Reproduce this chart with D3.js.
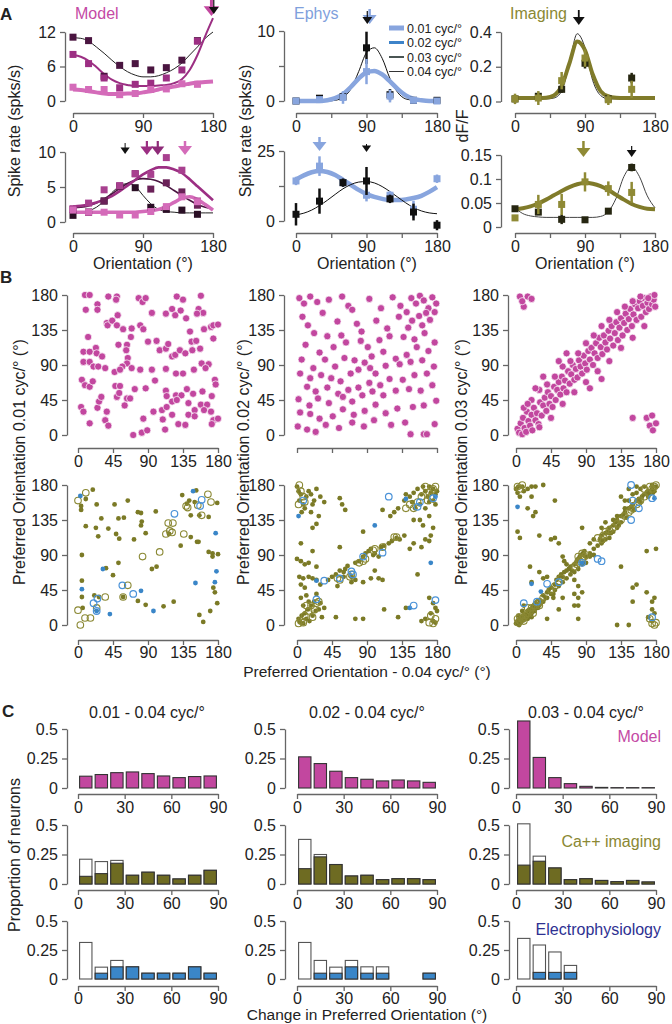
<!DOCTYPE html>
<html><head><meta charset="utf-8">
<script src="https://cdn.jsdelivr.net/npm/d3@7"></script>
<style>body{margin:0;background:#fff}svg text{font-family:"Liberation Sans",Arial,Helvetica,sans-serif}</style>
</head><body><svg id="c" width="672" height="1024"></svg>
<script>
// ---------------- DATA ----------------
const curveOri = [0,10,20,30,40,50,60,70,80,90,100,110,120,130,140,150,160,170,180];
const modelOri = [0,20,40,60,80,100,120,140,160];
const ephysOri = [0,30,60,90,120,150,180];
const imagingOri = [0,30,60,90,120,150];

// Model neuron 1
const model1Fit01 = [2.0,1.9,1.7,1.5,1.3,1.2,1.2,1.3,1.3,1.5,1.7,2.0,2.3,2.5,2.8,3.0,3.2,3.3,3.4];
const model1Fit02 = [8.0,7.7,7.0,5.9,4.7,3.7,3.1,2.8,2.6,2.6,2.6,2.7,2.8,3.1,3.8,5.4,8.0,11.3,14.4];
const model1Fit04 = [11.0,10.9,10.4,9.4,8.3,7.1,6.0,5.1,4.5,4.2,4.2,4.4,4.9,5.6,6.6,8.0,9.4,10.9,12.0];
const model1Pts01 = [2.4,2.0,2.0,1.1,1.3,2.0,2.1,3.0,2.9];
const model1Pts02 = [8.1,6.5,4.0,2.3,2.9,3.1,4.0,5.4,10.4];
const model1Pts04 = [11.1,10.5,4.3,6.2,6.5,5.4,5.8,7.1,10.5];
// Model neuron 2
const model2Fit01 = [1.4,1.4,1.4,1.4,1.4,1.4,1.4,1.4,1.4,1.5,1.6,1.8,2.2,2.8,3.4,3.6,3.2,2.5,1.7];
const model2Fit02 = [2.2,2.3,2.5,2.8,3.2,3.7,4.4,5.2,6.0,6.8,7.4,7.8,7.8,7.5,7.0,6.1,5.1,4.1,3.1];
const model2Fit03 = [2.0,2.1,2.3,2.7,3.3,4.0,4.8,5.5,6.0,6.2,6.1,5.8,5.2,4.5,3.8,3.1,2.5,2.1,1.9];
const model2Fit04 = [1.3,1.4,1.6,2.1,3.0,4.2,5.1,5.5,5.1,3.8,2.6,1.8,1.5,1.4,1.3,1.3,1.3,1.3,1.3];
const model2Pts01 = [1.7,1.4,1.4,1.0,1.0,1.5,2.2,3.6,2.9];
const model2Pts02 = [1.9,2.7,4.6,5.2,6.9,6.8,9.2,7.4,3.0];
const model2Pts03 = [1.8,1.4,3.0,5.1,6.9,4.7,5.6,4.3,2.4];
const model2Pts04 = [0.95,1.4,3.0,5.1,4.9,2.1,1.8,1.7,1.1];

// Ephys neuron 1
const ephys1Fit01 = [0,0,0,0,0.1,0.4,1.0,2.0,3.2,4.1,4.3,3.8,2.8,1.7,0.8,0.3,0.1,0,0];
const ephys1Fit04 = [0,0,0,0,0,0.1,0.5,1.7,4.2,6.9,7.6,6.1,3.2,1.2,0.3,0.1,0,0,0];
const ephys1Pts01 = [0,0.2,0.5,4.2,0.7,0.1,0];
const ephys1Err01 = [0.2,0.3,0.9,1.8,0.9,0.1,0.1];
const ephys1Pts04 = [0,0.4,0.6,7.6,0.9,0.1,0.1];
const ephys1Err04 = [0.1,0.3,0.3,2.3,0.8,0.1,0.1];
// Ephys neuron 2
const ephys2Fit01 = [14.8,16.3,17.4,17.9,17.5,16.4,14.7,12.9,11.1,9.6,8.6,7.9,7.5,7.5,7.7,8.2,9.0,10.4,12.1];
const ephys2Fit04 = [2.2,2.8,3.9,5.5,7.4,9.5,11.5,13.0,13.9,14.1,13.6,12.3,10.5,8.5,6.5,4.8,3.6,2.9,2.6];
const ephys2Pts01 = [14.3,19.6,13.7,9.2,9.2,4.2,15.1];
const ephys2Err01 = [1.5,3.5,1.5,2.2,1.5,3.0,1.5];
const ephys2Pts04 = [2.4,7.1,13.7,14.3,7.9,3.2,-1.5];
const ephys2Err04 = [4.0,4.5,1.5,5.0,1.5,3.0,1.8];

// Imaging neuron 1
const img1Fit01 = [0.02,0.02,0.02,0.02,0.022,0.035,0.09,0.22,0.345,0.295,0.155,0.06,0.03,0.022,0.02,0.02,0.02,0.02,0.02];
const img1Fit04 = [0.015,0.015,0.015,0.015,0.015,0.02,0.06,0.22,0.39,0.31,0.12,0.035,0.015,0.015,0.015,0.015,0.015,0.015,0.015];
const img1Pts01 = [0.015,0.02,0.12,0.25,0.01,0.07];
const img1Err01 = [0.03,0.04,0.05,0.05,0.03,0.05];
const img1Pts04 = [0.015,0.03,0.07,0.22,0.015,0.135];
const img1Err04 = [0.02,0.02,0.02,0.03,0.02,0.03];
// Imaging neuron 2
const img2Fit01 = [0.037,0.039,0.043,0.049,0.057,0.066,0.075,0.083,0.089,0.092,0.09,0.085,0.077,0.067,0.057,0.048,0.042,0.038,0.037];
const img2Fit04 = [0.04,0.028,0.023,0.021,0.02,0.02,0.02,0.02,0.02,0.02,0.02,0.022,0.032,0.06,0.105,0.125,0.105,0.065,0.04];
const img2Pts01 = [0.019,0.047,0.047,0.094,0.08,0.072];
const img2Err01 = [0.005,0.02,0.022,0.02,0.015,0.022];
const img2Pts04 = [0.038,0.031,0.016,0.015,0.033,0.124];
const img2Err04 = [0.005,0.004,0.01,0.003,0.005,0.008];

// Panel B: preferred orientation pairs [pref 0.04, pref other]
const modelPairs01 = [[9,180],[15,180],[10,161],[25,168],[25,161],[39,178],[50,178],[49,174],[78,176],[83,171],[87,176],[127,178],[135,174],[158,179],[155,162],[161,157],[13,126],[37,144],[38,141],[44,147],[51,154],[50,141],[58,136],[69,137],[80,141],[84,136],[95,157],[90,120],[101,121],[113,156],[121,162],[125,154],[132,160],[139,150],[144,133],[146,120],[153,156],[162,136],[171,139],[174,141],[180,142],[174,124],[7,107],[15,107],[23,112],[24,105],[31,101],[7,94],[15,94],[20,88],[26,88],[35,86],[52,116],[63,116],[62,109],[68,126],[64,99],[63,92],[57,88],[47,81],[54,84],[69,86],[80,84],[95,84],[105,109],[113,111],[116,117],[121,101],[125,103],[131,109],[138,105],[147,109],[152,121],[157,111],[113,85],[126,79],[135,79],[149,84],[159,92],[168,91],[164,86],[176,71],[177,65],[5,71],[9,64],[15,62],[19,69],[48,63],[54,63],[73,59],[63,47],[87,60],[99,70],[113,57],[114,50],[121,43],[126,51],[133,51],[140,59],[148,53],[160,56],[172,50],[4,36],[7,30],[25,35],[27,43],[30,49],[37,30],[50,49],[53,54],[60,38],[67,47],[97,30],[108,32],[114,36],[127,45],[142,41],[142,26],[150,32],[158,39],[166,39],[162,32],[171,30],[174,19],[15,15],[35,19],[39,12],[71,0],[82,3],[89,6],[84,21],[109,20],[121,26],[129,14],[138,13],[150,24],[172,14],[180,21],[112,7]];
const modelPairs02 = [[3,176],[9,169],[17,178],[26,171],[41,174],[58,178],[66,166],[7,152],[14,141],[33,157],[52,146],[71,161],[93,175],[108,163],[123,177],[133,166],[141,158],[147,176],[153,169],[158,179],[163,173],[169,163],[174,177],[179,169],[148,147],[157,153],[166,157],[171,148],[177,158],[143,138],[161,141],[131,152],[116,137],[102,147],[83,133],[77,143],[57,128],[39,127],[22,131],[11,116],[29,106],[47,113],[63,119],[82,121],[91,113],[106,122],[119,127],[137,126],[151,123],[164,131],[177,119],[169,108],[154,113],[141,103],[127,98],[111,107],[96,101],[87,93],[74,96],[61,99],[49,88],[36,97],[21,86],[6,97],[4,79],[17,73],[31,77],[44,73],[56,69],[69,79],[79,84],[94,86],[101,79],[114,89],[132,91],[146,94],[161,96],[176,88],[167,79],[151,77],[136,71],[119,72],[107,64],[93,67],[79,61],[66,58],[53,53],[39,61],[24,56],[13,62],[2,46],[16,38],[27,47],[41,41],[59,49],[71,43],[84,51],[97,56],[111,51],[127,57],[144,59],[159,57],[174,64],[179,44],[163,38],[149,36],[129,34],[114,28],[101,39],[87,31],[73,26],[59,33],[46,24],[29,21],[17,27],[4,29],[1,11],[13,7],[24,4],[37,13],[54,9],[71,16],[86,11],[99,19],[121,13],[139,16],[146,1],[163,1],[167,1],[177,14]];
const modelPairs03 = [[2,8],[4,3],[6,15],[8,1],[9,22],[11,9],[13,4],[14,30],[16,18],[18,12],[20,26],[21,6],[23,35],[25,19],[27,28],[29,14],[31,42],[33,25],[35,38],[37,48],[39,31],[41,55],[43,40],[45,50],[47,36],[49,62],[51,45],[53,58],[55,68],[57,52],[59,75],[61,60],[63,70],[65,55],[67,82],[69,66],[71,78],[73,90],[75,71],[77,85],[79,74],[81,96],[83,88],[85,79],[87,102],[89,92],[91,84],[93,108],[95,97],[97,112],[99,90],[101,105],[103,118],[105,99],[107,125],[109,113],[111,104],[113,128],[115,119],[117,110],[119,134],[121,124],[123,140],[125,115],[127,131],[129,145],[131,122],[133,138],[135,150],[137,128],[139,144],[141,156],[143,135],[145,149],[147,162],[149,140],[151,155],[153,168],[155,148],[157,163],[159,172],[161,152],[163,166],[165,176],[167,158],[169,170],[171,162],[173,178],[175,168],[177,174],[179,165],[178,180],[170,176],[160,178],[150,172],[140,165],[130,158],[120,148],[110,140],[100,128],[90,118],[80,105],[70,95],[60,88],[50,75],[40,65],[30,58],[20,45],[10,35],[60,40],[75,55],[90,68],[105,82],[120,95],[135,112],[150,125],[165,140],[45,22],[30,10],[15,40],[25,60],[35,75],[5,178],[10,165],[8,172],[15,178],[20,175],[168,22],[172,12],[176,6],[180,15],[150,22],[175,25],[95,60],[110,72],[65,105],[55,95]];

const imgSig01 = [[19,174],[4,153],[4,148],[10,162],[24,155],[30,137],[23,125],[26,114],[10,127],[39,124],[47,155],[64,160],[52,137],[59,138],[49,117],[53,111],[72,110],[77,145],[81,144],[82,133],[81,128],[87,118],[100,146],[134,167],[143,160],[152,173],[145,141],[145,113],[153,107],[132,102],[117,117],[5,90],[5,57],[5,36],[6,22],[21,38],[27,36],[36,73],[45,64],[52,80],[58,36],[77,31],[87,26],[95,72],[101,75],[110,24],[123,30],[156,13],[161,4],[170,18],[174,48],[176,42],[173,88],[168,94],[173,92],[180,91],[179,28],[179,157],[168,139],[156,141],[150,158],[140,156],[155,107]];
const imgAll01 = [[0,160],[10,170],[139,153],[141,151],[154,154],[159,141],[167,168],[171,158],[113,117],[116,131],[122,131],[118,121],[121,119],[136,117],[83,88],[105,94],[64,51],[58,36],[35,36],[24,22],[0,19],[9,9],[16,9],[3,0]];
const ephysSig01 = [[3,166],[148,172],[177,118],[178,69],[176,55],[151,54],[81,44],[32,72],[5,46],[41,14],[97,18],[24,18]];
const ephysAll01 = [[124,143],[159,161],[157,153],[57,51],[71,40],[20,28],[25,34],[24,18]];

const imgSig02 = [[0,178],[2,172],[5,168],[3,160],[8,155],[10,150],[6,145],[12,165],[15,172],[18,168],[22,160],[20,155],[25,175],[30,165],[18,145],[25,130],[20,125],[28,140],[35,158],[55,163],[58,155],[62,148],[145,165],[150,170],[155,175],[160,168],[162,178],[165,172],[168,165],[170,178],[172,170],[175,175],[178,168],[180,172],[148,158],[152,150],[158,155],[165,150],[170,158],[175,160],[178,155],[140,168],[138,160],[130,150],[125,145],[150,135],[158,135],[162,128],[170,140],[175,125],[172,115],[110,148],[120,140],[2,8],[4,4],[6,12],[8,2],[10,15],[12,8],[14,20],[16,5],[18,25],[20,12],[22,30],[24,18],[8,25],[5,35],[12,38],[15,30],[28,20],[30,28],[32,10],[35,22],[25,40],[10,48],[5,52],[3,62],[8,60],[15,62],[20,60],[25,58],[30,52],[40,58],[45,62],[50,65],[55,70],[60,68],[62,72],[65,76],[70,62],[75,80],[80,82],[85,88],[88,92],[92,95],[95,98],[98,90],[100,92],[105,88],[108,100],[112,102],[118,105],[122,108],[128,112],[132,110],[138,115],[145,98],[150,105],[160,100],[165,110],[170,108],[0,85],[5,82],[10,78],[15,80],[25,75],[20,95],[5,105],[55,100],[85,120],[100,70],[105,60],[110,58],[95,60],[85,55],[75,58],[70,55],[60,62],[52,50],[50,10],[75,8],[85,8],[130,10],[112,20],[140,22],[160,5],[165,8],[170,35],[175,28],[178,22],[180,18],[172,15],[175,5],[178,3],[155,65]];
const imgAll02 = [[3,180],[5,172],[2,155],[8,165],[10,158],[165,178],[170,170],[175,175],[160,165],[155,158],[150,150],[168,160],[172,165],[178,178],[140,150],[145,155],[125,113],[128,113],[100,98],[98,96],[110,100],[85,82],[88,85],[80,80],[70,65],[68,62],[55,58],[52,60],[25,28],[22,20],[18,25],[28,30],[15,18],[10,12],[5,5],[2,2],[8,3],[20,10],[12,25],[170,3],[175,2],[178,8],[172,12]];
const ephysSig02 = [[2,140],[140,162],[178,165],[100,128],[25,57],[145,22],[172,80]];
const ephysAll02 = [[8,160],[118,165],[155,152],[158,158],[175,163],[85,88],[110,93],[70,69],[72,65],[55,60],[35,57],[25,33],[150,25],[178,32]];

const imgSig03 = [[0,2],[2,5],[4,0],[5,8],[6,3],[8,10],[10,6],[12,14],[14,10],[15,18],[16,12],[18,20],[20,15],[22,24],[24,18],[25,28],[3,12],[8,18],[10,25],[15,8],[20,10],[28,22],[30,32],[32,28],[35,38],[38,35],[40,42],[42,45],[45,48],[48,40],[50,52],[52,58],[55,62],[58,65],[60,62],[62,68],[65,70],[68,72],[70,75],[72,70],[75,78],[78,82],[80,85],[82,88],[84,90],[86,92],[88,95],[90,88],[95,92],[100,98],[105,102],[108,110],[110,115],[112,108],[115,118],[118,120],[120,125],[122,118],[125,128],[128,132],[130,135],[132,128],[135,140],[138,142],[140,145],[142,138],[145,150],[148,152],[150,155],[152,148],[155,160],[158,162],[160,158],[162,165],[165,168],[168,170],[170,172],[172,168],[175,175],[178,172],[180,178],[176,170],[170,165],[160,175],[155,170],[150,168],[145,160],[140,150],[135,132],[130,125],[125,120],[120,112],[115,110],[110,105],[100,90],[95,88],[90,80],[85,78],[80,72],[75,68],[70,65],[65,60],[60,55],[55,50],[50,45],[45,40],[40,35],[35,30],[30,25],[25,22],[20,18],[0,175],[2,170],[5,165],[3,178],[8,178],[10,172],[15,175],[20,178],[25,178],[35,180],[20,165],[15,150],[22,140],[25,145],[50,160],[2,120],[5,112],[18,75],[30,68],[35,60],[40,62],[20,55],[30,115],[45,110],[50,112],[55,105],[60,88],[65,78],[62,82],[85,125],[75,58],[80,50],[85,42],[80,35],[75,40],[75,25],[80,25],[80,8],[60,35],[55,20],[48,35],[40,8],[130,0],[145,0],[135,75],[150,48],[155,52],[150,30],[168,42],[175,30],[178,35],[175,20],[178,15],[170,10],[175,5],[180,98],[168,95],[110,125],[115,132],[120,118],[95,105],[100,110],[125,135],[130,140],[140,160],[135,165],[145,175],[155,178],[165,178],[175,180]];
const imgAll03 = [[3,3],[5,5],[8,8],[10,10],[12,12],[15,15],[18,18],[20,22],[25,25],[28,28],[30,30],[35,35],[10,5],[5,10],[2,8],[15,22],[22,15],[30,25],[45,45],[50,50],[55,55],[58,60],[78,78],[80,80],[82,82],[85,85],[88,88],[90,90],[85,92],[80,88],[75,75],[105,112],[110,110],[112,115],[115,120],[120,122],[125,125],[130,130],[135,135],[140,140],[145,145],[148,148],[150,150],[155,155],[158,158],[160,160],[165,165],[170,170],[175,175],[178,178],[180,180],[165,175],[172,178],[2,178],[5,175],[8,180],[175,2],[178,0],[180,3],[172,8]];
const ephysSig03 = [[2,152],[20,53],[32,43],[85,80],[178,163]];
const ephysAll03 = [[10,28],[27,30],[40,53],[55,55],[85,80],[105,85],[110,82],[148,180],[148,135],[150,160],[158,150],[175,163],[175,10]];

// Panel C histograms (bins of 10 deg)
const binStarts = [0,10,20,30,40,50,60,70,80];
const c1Model = [0.1,0.114,0.13,0.136,0.122,0.102,0.088,0.097,0.102];
const c1ImgAll = [0.21,0.19,0.2,0.074,0.1,0.074,0.043,0.074,0.116];
const c1ImgSig = [0.065,0.088,0.176,0.074,0.1,0.074,0.043,0.074,0.116];
const c1EphysAll = [0.315,0.102,0.16,0.105,0.05,0.05,0.05,0.105,0.05];
const c1EphysSig = [0,0.05,0.105,0.105,0.05,0.05,0.05,0.105,0.05];
const c2Model = [0.264,0.207,0.142,0.088,0.074,0.06,0.068,0.06,0.048];
const c2ImgAll = [0.378,0.25,0.165,0.068,0.074,0.037,0.045,0.045,0.037];
const c2ImgSig = [0.13,0.23,0.165,0.068,0.074,0.037,0.045,0.045,0.037];
const c2EphysAll = [0.315,0.16,0.102,0.16,0.105,0.105,0,0,0.05];
const c2EphysSig = [0,0.05,0.05,0.105,0.05,0.05,0,0,0.05];
const c3Model = [0.568,0.259,0.088,0.037,0.014,0.005,0.003,0.003,0.003];
const c3ImgAll = [0.51,0.236,0.136,0.037,0.045,0.03,0.02,0.03,0.017];
const c3ImgSig = [0.16,0.193,0.136,0.037,0.045,0.03,0.02,0.03,0.017];
const c3EphysAll = [0.35,0.293,0.233,0.117,0,0,0,0,0];
const c3EphysSig = [0,0.057,0.057,0.057,0,0,0,0,0];

const legendLabels = ["0.01 cyc/°","0.02 cyc/°","0.03 cyc/°","0.04 cyc/°"];
const histTitles = ["0.01 - 0.04 cyc/°","0.02 - 0.04 cyc/°","0.03 - 0.04 cyc/°"];

// ---------------- DRAWING ----------------
const svg = d3.select("#c");
const MAG = "#c2479f", MAG_L = "#d46bb9", MAG_P = "#9c2f83", MAG_D = "#4a1540";
const OLV = "#7b7a26", OLV_T = "#8a8833";
const BLU = "#3a86c8", BLU_L = "#88a5de";
const AX = "#666";

function styleAxis(g){
  g.select(".domain").attr("stroke",AX).attr("stroke-width",1.3);
  g.selectAll(".tick line").attr("stroke",AX).attr("stroke-width",1.3);
  g.selectAll(".tick text").attr("font-size",16).attr("fill","#222");
}
function makeAxes(p){
  const x = d3.scaleLinear().domain(p.xDomain).range(p.xr);
  const y = d3.scaleLinear().domain(p.yDomain).range(p.yr);
  svg.append("g").attr("transform",`translate(${p.yAxisX},0)`)
    .call(d3.axisLeft(y).tickValues(p.yTicks).tickFormat(p.yFmt).tickSize(5).tickSizeOuter(0).tickPadding(4)).call(styleAxis);
  svg.append("g").attr("transform",`translate(0,${p.xAxisY})`)
    .call(d3.axisBottom(x).tickValues(p.xTicks).tickFormat(p.xFmt).tickSize(5).tickSizeOuter(0).tickPadding(p.xPad==null?3:p.xPad)).call(styleAxis);
  return {x,y};
}
function arrow(xp, y0, y1, color, w){
  const hw = w*1.6+3, hh = w*1.6+5;
  svg.append("line").attr("x1",xp).attr("x2",xp).attr("y1",y0).attr("y2",y1-hh+1).attr("stroke",color).attr("stroke-width",w);
  svg.append("path").attr("d",`M${xp-hw},${y1-hh}L${xp+hw},${y1-hh}L${xp},${y1}Z`).attr("fill",color);
}
function tuning(p){
  const {x,y} = makeAxes(p);
  const line = d3.line().x(d=>x(d[0])).y(d=>y(d[1])).curve(d3.curveMonotoneX);
  p.series.forEach(s=>{
    if(s.fit) svg.append("path").attr("d",line(curveOri.map((o,i)=>[o,s.fit[i]]))).attr("fill","none").attr("stroke",s.color).attr("stroke-width",s.w);
  });
  p.series.forEach(s=>{
    if(!s.pts) return;
    s.pts.forEach((v,i)=>{
      const o = p.ori[i];
      if(s.err) svg.append("line").attr("x1",x(o)).attr("x2",x(o)).attr("y1",y(v-s.err[i])).attr("y2",y(v+s.err[i])).attr("stroke",s.pcolor).attr("stroke-width",2.5);
      svg.append("rect").attr("x",x(o)-3.5).attr("y",y(v)-3.5).attr("width",7).attr("height",7).attr("fill",s.pcolor);
    });
  });
  (p.arrows||[]).forEach(a=>arrow(x(a.o),a.y0,a.y1,a.color,a.w));
}
const fmtSel = keep => (d=> keep.includes(d) ? String(d) : "");

// ----- Panel A -----
tuning({xr:[73,213],yr:[101,32],yAxisX:65,xAxisY:113,xDomain:[0,180],yDomain:[0,12],yTicks:[0,6,12],yFmt:d=>d,xTicks:[0,90,180],xFmt:d=>d,ori:modelOri,
  series:[{fit:model1Fit04,color:"#222",w:1,pts:model1Pts04,pcolor:MAG_D},{fit:model1Fit02,color:MAG_P,w:2,pts:model1Pts02,pcolor:MAG_P},{fit:model1Fit01,color:MAG_L,w:4,pts:model1Pts01,pcolor:MAG_L}],
  arrows:[{o:178,y0:0,y1:16,color:MAG,w:3},{o:181,y0:0,y1:14,color:"#111",w:1.2}]});
tuning({xr:[73,213],yr:[222,152],yAxisX:65,xAxisY:233,xDomain:[0,180],yDomain:[0,10],yTicks:[0,5,10],yFmt:d=>d,xTicks:[0,90,180],xFmt:d=>d,ori:modelOri,
  series:[{fit:model2Fit04,color:"#222",w:1,pts:model2Pts04,pcolor:"#2a0f25"},{fit:model2Fit03,color:MAG_D,w:1.6,pts:model2Pts03,pcolor:"#6a2158"},{fit:model2Fit02,color:MAG_P,w:2.6,pts:model2Pts02,pcolor:"#a8408f"},{fit:model2Fit01,color:MAG_L,w:3.5,pts:model2Pts01,pcolor:MAG_L}],
  arrows:[{o:67,y0:143,y1:154,color:"#111",w:1},{o:95,y0:141,y1:155,color:MAG_P,w:2.2},{o:109,y0:141,y1:155,color:"#8e2a78",w:2.2},{o:144,y0:141,y1:155,color:MAG_L,w:2.5}]});
tuning({xr:[296,437],yr:[101,31],yAxisX:284,xAxisY:113,xDomain:[0,180],yDomain:[0,10],yTicks:[0,5,10],yFmt:fmtSel([0,10]),xTicks:[0,45,90,135,180],xFmt:fmtSel([0,90,180]),ori:ephysOri,
  series:[{fit:ephys1Fit04,color:"#111",w:1,pts:ephys1Pts04,err:ephys1Err04,pcolor:"#111"},{fit:ephys1Fit01,color:BLU_L,w:4.5,pts:ephys1Pts01,err:ephys1Err01,pcolor:BLU_L}],
  arrows:[{o:94,y0:9,y1:24,color:BLU_L,w:2.5},{o:91,y0:11,y1:24,color:"#111",w:1.2}]});
tuning({xr:[296,437],yr:[221,151],yAxisX:284,xAxisY:233,xDomain:[0,180],yDomain:[0,25],yTicks:[0,12.5,25],yFmt:fmtSel([0,25]),xTicks:[0,45,90,135,180],xFmt:fmtSel([0,90,180]),ori:ephysOri,
  series:[{fit:ephys2Fit01,color:BLU_L,w:4.5,pts:ephys2Pts01,err:ephys2Err01,pcolor:BLU_L},{fit:ephys2Fit04,color:"#111",w:1,pts:ephys2Pts04,err:ephys2Err04,pcolor:"#111"}],
  arrows:[{o:30,y0:137,y1:151,color:BLU_L,w:2.5},{o:90,y0:144,y1:152,color:"#111",w:1}]});
tuning({xr:[515,655],yr:[101.5,32],yAxisX:501,xAxisY:113,xDomain:[0,180],yDomain:[0,0.4],yTicks:[0,0.2,0.4],yFmt:d3.format(".1f"),xTicks:[0,45,90,135,180],xFmt:fmtSel([0,90,180]),ori:imagingOri,
  series:[{fit:img1Fit04,color:"#333",w:1,pts:img1Pts04,err:img1Err04,pcolor:"#262611"},{fit:img1Fit01,color:"#807b2a",w:4,pts:img1Pts01,err:img1Err01,pcolor:"#8f8a35"}],
  arrows:[{o:82,y0:10,y1:25,color:"#111",w:1.8}]});
tuning({xr:[515,655],yr:[227,155],yAxisX:501,xAxisY:233,xDomain:[0,180],yDomain:[0,0.15],yTicks:[0,0.05,0.1,0.15],yFmt:d=>d===0?"0":String(d),xTicks:[0,45,90,135,180],xFmt:fmtSel([0,90,180]),ori:imagingOri,
  series:[{fit:img2Fit04,color:"#444",w:1,pts:img2Pts04,err:img2Err04,pcolor:"#262611"},{fit:img2Fit01,color:"#807b2a",w:4,pts:img2Pts01,err:img2Err01,pcolor:"#8f8a35"}],
  arrows:[{o:88,y0:141,y1:157,color:"#8f8a35",w:2.5},{o:150,y0:146,y1:157,color:"#111",w:1.2}]});

// Legend
const legColors = [BLU_L,"#3d83c9","#1c2a28","#333"], legW = [5,3,1.6,1];
legendLabels.forEach((t,i)=>{
  const yy = 28+i*14.5;
  svg.append("line").attr("x1",389).attr("x2",404).attr("y1",yy).attr("y2",yy).attr("stroke",legColors[i]).attr("stroke-width",legW[i]);
  svg.append("text").attr("x",407).attr("y",yy+4.5).attr("font-size",12.5).attr("fill","#222").text(t);
});

function txt(x,y,s,opt={}){
  const t = svg.append("text").attr("x",x).attr("y",y).attr("font-size",opt.size||16).attr("fill",opt.color||"#222").attr("text-anchor",opt.anchor||"start").text(s);
  if(opt.bold) t.attr("font-weight","bold");
  if(opt.rot) t.attr("transform",`rotate(-90,${x},${y})`);
  return t;
}
txt(0,20,"A",{bold:true,size:17});
txt(75,19,"Model",{color:"#c44aa5"});
txt(294,19,"Ephys",{color:"#7fa0dc"});
txt(510,19,"Imaging",{color:"#8a8833"});
txt(20,131,"Spike rate (spks/s)",{rot:true,anchor:"middle"});
txt(251,131,"Spike rate (spks/s)",{rot:true,anchor:"middle"});
txt(468,126,"dF/F",{rot:true,anchor:"middle"});
[143,367,585].forEach(cx=>txt(cx,269,"Orientation (°)",{anchor:"middle"}));

// ----- Panel B -----
const colsB = [{yAxisX:67,xr:[78,218]},{yAxisX:284,xr:[297,437]},{yAxisX:508,xr:[516,656]}];
const modelSets = [modelPairs01,modelPairs02,modelPairs03];
const dataSets = [[imgSig01,imgAll01,ephysSig01,ephysAll01],[imgSig02,imgAll02,ephysSig02,ephysAll02],[imgSig03,imgAll03,ephysSig03,ephysAll03]];
const bTicks = [0,45,90,135,180];
colsB.forEach((c,ci)=>{
  let a = makeAxes({xr:c.xr,yr:[435,295],yAxisX:c.yAxisX,xAxisY:448,xDomain:[0,180],yDomain:[0,180],yTicks:bTicks,yFmt:d=>d,xTicks:bTicks,xFmt:ci===1?(()=>""):(d=>d)});
  svg.append("g").selectAll("circle").data(modelSets[ci]).join("circle")
    .attr("cx",d=>a.x(d[0])).attr("cy",d=>a.y(d[1])).attr("r",3.6).attr("fill",MAG).attr("stroke","#fff").attr("stroke-width",0.7);
  a = makeAxes({xr:c.xr,yr:[625,485],yAxisX:c.yAxisX,xAxisY:640,xPad:2,xDomain:[0,180],yDomain:[0,180],yTicks:bTicks,yFmt:d=>d,xTicks:bTicks,xFmt:d=>d});
  const [is,ia,es,ea] = dataSets[ci];
  svg.append("g").selectAll("circle").data(is).join("circle").attr("cx",d=>a.x(d[0])).attr("cy",d=>a.y(d[1])).attr("r",2.4).attr("fill",OLV);
  svg.append("g").selectAll("circle").data(ia).join("circle").attr("cx",d=>a.x(d[0])).attr("cy",d=>a.y(d[1])).attr("r",3.3).attr("fill","none").attr("stroke",OLV_T).attr("stroke-width",1.1);
  svg.append("g").selectAll("circle").data(es).join("circle").attr("cx",d=>a.x(d[0])).attr("cy",d=>a.y(d[1])).attr("r",2.4).attr("fill",BLU);
  svg.append("g").selectAll("circle").data(ea).join("circle").attr("cx",d=>a.x(d[0])).attr("cy",d=>a.y(d[1])).attr("r",3.3).attr("fill","none").attr("stroke","#4a92d8").attr("stroke-width",1.2);
});
txt(0,283,"B",{bold:true,size:17});
txt(25,462,"Preferred Orientation 0.01 cyc/° (°)",{rot:true,anchor:"middle"});
txt(249,462,"Preferred Orientation 0.02 cyc/° (°)",{rot:true,anchor:"middle"});
txt(467,462,"Preferred Orientation 0.03 cyc/° (°)",{rot:true,anchor:"middle"});
txt(367,677,"Preferred Orientation - 0.04 cyc/° (°)",{anchor:"middle",size:15.5});

// ----- Panel C -----
const colsC = [{yAxisX:67,xr:[78,218]},{yAxisX:285,xr:[297,437]},{yAxisX:509,xr:[516,656]}];
const rowsC = [{yr:[788,729],ax:794},{yr:[884,825],ax:890},{yr:[979,921],ax:986}];
const histData = [
  [[null,c1Model,MAG],[c1ImgAll,c1ImgSig,"#6e6b22"],[c1EphysAll,c1EphysSig,BLU]],
  [[null,c2Model,MAG],[c2ImgAll,c2ImgSig,"#6e6b22"],[c2EphysAll,c2EphysSig,BLU]],
  [[null,c3Model,MAG],[c3ImgAll,c3ImgSig,"#6e6b22"],[c3EphysAll,c3EphysSig,BLU]]];
colsC.forEach((c,ci)=>{
  rowsC.forEach((r,ri)=>{
    const a = makeAxes({xr:c.xr,yr:r.yr,yAxisX:c.yAxisX,xAxisY:r.ax,xPad:ri===2?2:3,xDomain:[0,90],yDomain:[0,0.5],yTicks:[0,0.25,0.5],yFmt:d=>d===0?"0":String(d),xTicks:[0,30,60,90],xFmt:d=>d});
    const [all,sig,col] = histData[ci][ri];
    const g = svg.append("g");
    if(all) g.selectAll("rect.a").data(binStarts).join("rect").attr("class","a")
      .attr("x",d=>a.x(d)+1.6).attr("width",d=>a.x(d+10)-a.x(d)-3.2).attr("y",(d,i)=>a.y(all[i])).attr("height",(d,i)=>a.y(0)-a.y(all[i]))
      .attr("fill","#fff").attr("stroke","#555").attr("stroke-width",1.1);
    g.selectAll("rect.s").data(binStarts).join("rect").attr("class","s")
      .attr("x",d=>a.x(d)+1.6).attr("width",d=>a.x(d+10)-a.x(d)-3.2).attr("y",(d,i)=>a.y(sig[i])).attr("height",(d,i)=>a.y(0)-a.y(sig[i]))
      .attr("fill",col).attr("stroke","#333").attr("stroke-width",1.1);
  });
});
txt(2,717,"C",{bold:true,size:17});
txt(147,718,histTitles[0],{anchor:"middle"});
txt(367,718,histTitles[1],{anchor:"middle"});
txt(586,718,histTitles[2],{anchor:"middle"});
txt(661,742,"Model",{anchor:"end",color:"#c44aa5"});
txt(661,847,"Ca++ imaging",{anchor:"end",color:"#8a8833"});
txt(661,935,"Electrophysiology",{anchor:"end",color:"#2e3192"});
txt(20,855,"Proportion of neurons",{rot:true,anchor:"middle"});
txt(367,1020,"Change in Preferred Orientation (°)",{anchor:"middle",size:15.5});
</script></body></html>
